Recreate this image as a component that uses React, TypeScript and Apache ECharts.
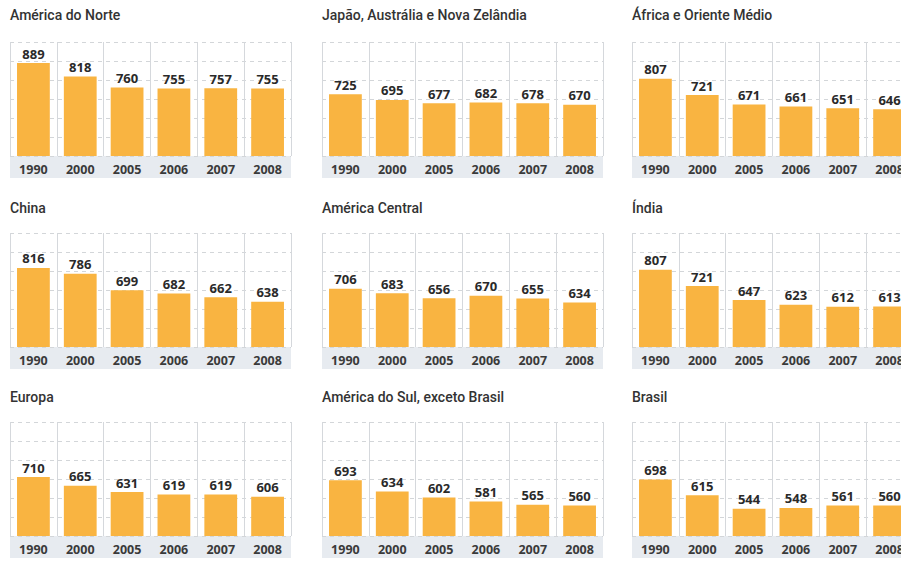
import React, { useEffect, useRef } from "react";
import * as echarts from "echarts";

const years = ["1990", "2000", "2005", "2006", "2007", "2008"];

const titles = [
  "América do Norte",
  "Japão, Austrália e Nova Zelândia",
  "África e Oriente Médio",
  "China",
  "América Central",
  "Índia",
  "Europa",
  "América do Sul, exceto Brasil",
  "Brasil",
];

const americaDoNorte = [889, 818, 760, 755, 757, 755];
const japaoAustralia = [725, 695, 677, 682, 678, 670];
const africaOriente = [807, 721, 671, 661, 651, 646];
const china = [816, 786, 699, 682, 662, 638];
const americaCentral = [706, 683, 656, 670, 655, 634];
const india = [807, 721, 647, 623, 612, 613];
const europa = [710, 665, 631, 619, 619, 606];
const americaDoSul = [693, 634, 602, 581, 565, 560];
const brasil = [698, 615, 544, 548, 561, 560];

const seriesData = [
  americaDoNorte,
  japaoAustralia,
  africaOriente,
  china,
  americaCentral,
  india,
  europa,
  americaDoSul,
  brasil,
];

const yMin = 400;
const yMax = 1000;
const yInterval = 100;

const colLefts = [10, 322, 632];
const rowTops = [42, 233, 422];
const titleTops = [8, 201, 390];
const gridW = 281;
const gridH = 114;
const stripH = 22;

const FONT = "'Open Sans', 'DejaVu Sans', sans-serif";
const TITLE_FONT = "Roboto, 'Open Sans', sans-serif";

export default function App() {
  const ref = useRef<HTMLDivElement>(null);

  useEffect(() => {
    if (!ref.current) return;
    const chart = echarts.init(ref.current, undefined, { renderer: "svg" });

    const grids: any[] = [];
    const xAxes: any[] = [];
    const yAxes: any[] = [];
    const series: any[] = [];
    const titleArr: any[] = [];
    const graphics: any[] = [];

    seriesData.forEach((data, i) => {
      const r = Math.floor(i / 3);
      const c = i % 3;
      const left = colLefts[c];
      const top = rowTops[r];
      grids.push({
        left,
        top,
        width: gridW,
        height: gridH,
        containLabel: false,
        outerBoundsMode: "none",
      });
      titleArr.push({
        text: titles[i],
        left: left,
        top: titleTops[r],
        padding: 0,
        textStyle: {
          fontFamily: TITLE_FONT,
          fontSize: 14,
          fontWeight: 500,
          color: "#333333",
        },
      });
      graphics.push({
        type: "rect",
        shape: { x: left, y: top + gridH, width: gridW, height: stripH },
        style: { fill: "#E7EBF0" },
        z: -1,
        silent: true,
      });
      xAxes.push({
        type: "category",
        gridIndex: i,
        data: years,
        axisLine: { show: false },
        axisTick: { show: false },
        splitLine: {
          show: true,
          interval: 0,
          lineStyle: { color: "#D5D8DC", width: 1 },
        },
        axisLabel: {
          interval: 0,
          margin: 7,
          fontFamily: FONT,
          fontSize: 12.5,
          fontWeight: 700,
          color: "#3a3a3a",
        },
      });
      yAxes.push({
        type: "value",
        gridIndex: i,
        min: yMin,
        max: yMax,
        interval: yInterval,
        axisLine: { show: false },
        axisTick: { show: false },
        axisLabel: { show: false },
        splitLine: {
          show: true,
          lineStyle: { color: "#D3D6D9", type: [4, 4], width: 1 },
        },
      });
      series.push({
        type: "bar",
        xAxisIndex: i,
        yAxisIndex: i,
        data,
        barCategoryGap: "30%",
        itemStyle: { color: "#F9B441" },
        label: {
          show: true,
          position: "top",
          distance: 3,
          fontFamily: FONT,
          fontSize: 13,
          fontWeight: 700,
          color: "#2a2a2a",
        },
      });
    });

    chart.setOption({
      animation: false,
      backgroundColor: "#ffffff",
      title: titleArr,
      grid: grids,
      xAxis: xAxes,
      yAxis: yAxes,
      series,
      graphic: graphics,
    });

    return () => chart.dispose();
  }, []);

  return (
    <div
      ref={ref}
      style={{ position: "fixed", left: 0, top: 0, width: 901, height: 567 }}
    />
  );
}
